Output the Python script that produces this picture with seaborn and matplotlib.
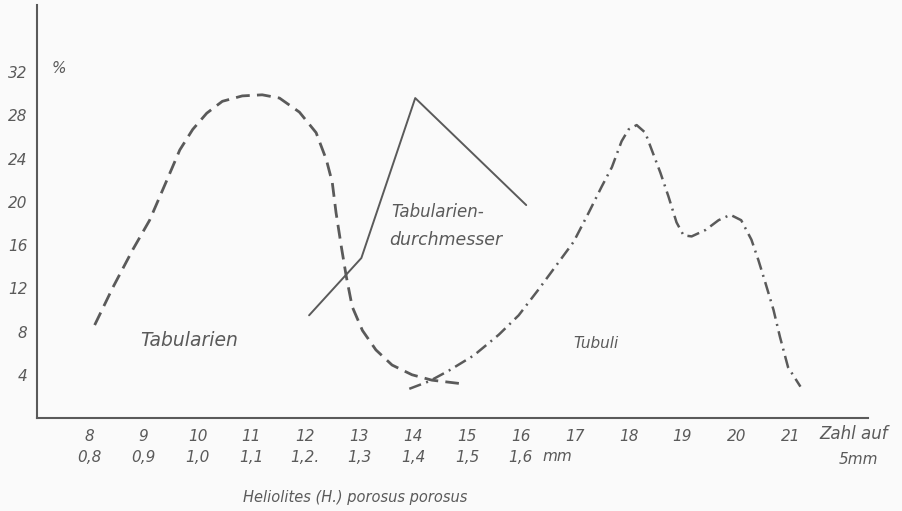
import numpy as np
import pandas as pd
import seaborn as sns
import matplotlib.pyplot as plt

## Recreated scan: Heliolites (H.) porosus porosus, distributions in %

# Tabularien (dashed curve)
tab_x = [8.09, 8.43, 8.80, 9.11, 9.43, 9.67, 9.91, 10.17, 10.46, 10.83, 11.2, 11.52,
         11.89, 12.2, 12.39, 12.5, 12.57, 12.67, 12.76, 12.87, 13.06, 13.31, 13.61,
         13.98, 14.35, 14.85]
tab_y = [8.6, 12.1, 15.6, 18.3, 22.0, 24.8, 26.7, 28.2, 29.3, 29.8, 29.9, 29.6,
         28.3, 26.4, 23.9, 21.8, 19.0, 15.8, 13.1, 10.3, 8.1, 6.3, 4.9,
         4.0, 3.5, 3.2]

# Tabularien-durchmesser (solid line)
dm_x = [12.07, 13.04, 14.04, 16.1]
dm_y = [9.5, 14.8, 29.6, 19.7]

# Tubuli (dash-dot curve)
tub_x = [13.93, 14.3, 14.67, 15.13, 15.59, 15.96, 16.33, 16.7, 16.98, 17.26, 17.5,
         17.69, 17.87, 18.0, 18.15, 18.31, 18.43, 18.59, 18.74, 18.89, 19.02, 19.17,
         19.43, 19.67, 19.89, 20.09, 20.28, 20.41, 20.54, 20.69, 20.81, 20.96, 21.19]
tub_y = [2.7, 3.4, 4.4, 5.8, 7.7, 9.5, 11.9, 14.4, 16.3, 19.0, 21.4,
         23.2, 25.6, 26.7, 27.1, 26.4, 24.8, 22.7, 20.5, 18.1, 16.9, 16.8,
         17.4, 18.3, 18.8, 18.3, 16.5, 14.6, 12.5, 10.0, 7.5, 4.7, 2.9]

# axis ticks
x_ticks = list(range(8, 22))
x_labels = ["8\n0,8", "9\n0,9", "10\n1,0", "11\n1,1", "12\n1,2.", "13\n1,3",
            "14\n1,4", "15\n1,5", "16\n1,6", "17", "18", "19", "20", "21"]
y_ticks = [4, 8, 12, 16, 20, 24, 28, 32]

ink = "#5a5a5a"
paper = "#fafafa"

sns.set_style("white")
plt.rcParams["font.family"] = ["DejaVu Sans"]

fig = plt.figure(figsize=(9.03, 5.11), dpi=100, facecolor=paper)
ax = fig.add_axes([0.041, 0.182, 0.92, 0.808], facecolor=paper)

sns.lineplot(x=tab_x, y=tab_y, sort=False, estimator=None, ax=ax, color=ink,
             linewidth=2.0, linestyle=(0, (5, 2.6)))
sns.lineplot(x=dm_x, y=dm_y, sort=False, estimator=None, ax=ax, color=ink,
             linewidth=1.4)
sns.lineplot(x=tub_x, y=tub_y, sort=False, estimator=None, ax=ax, color=ink,
             linewidth=1.8, linestyle=(0, (5, 2.2, 0.8, 2.2)))

ax.set_xlim(7.02, 22.44)
ax.set_ylim(0, 38.2)
sns.despine(ax=ax)
for s in ["left", "bottom"]:
    ax.spines[s].set_color(ink)
    ax.spines[s].set_linewidth(1.5)

ax.set_xticks(x_ticks)
ax.set_xticklabels(x_labels, fontstyle="italic", fontsize=11, color=ink, linespacing=1.5)
ax.set_yticks(y_ticks)
ax.set_yticklabels([str(v) for v in y_ticks], fontstyle="italic", fontsize=11, color=ink)
ax.tick_params(axis="both", length=3, width=1.2, color=ink, direction="out")
ax.tick_params(axis="y", pad=4)
ax.tick_params(axis="x", pad=5)

txt = dict(color=ink, fontstyle="italic")
ax.text(7.3, 32.3, "%", ha="left", va="center", fontsize=11, **txt)
ax.text(8.93, 7.2, "Tabularien", ha="left", va="center", fontsize=13.5, **txt)
ax.text(13.6, 19.1, "Tabularien-", ha="left", va="center", fontsize=12, **txt)
ax.text(13.56, 16.5, "durchmesser", ha="left", va="center", fontsize=12.5, **txt)
ax.text(16.98, 6.9, "Tubuli", ha="left", va="center", fontsize=11, **txt)
ax.text(16.4, -3.6, "mm", ha="left", va="center", fontsize=11, **txt)
ax.text(21.55, -1.5, "Zahl auf", ha="left", va="center", fontsize=12, **txt)
ax.text(21.9, -3.8, "5mm", ha="left", va="center", fontsize=11, **txt)

fig.text(0.393, 0.027, "Heliolites (H.) porosus porosus", ha="center", va="center",
         color=ink, fontstyle="italic", fontsize=10.5)

fig.savefig("out.png", dpi=100, facecolor=paper)
